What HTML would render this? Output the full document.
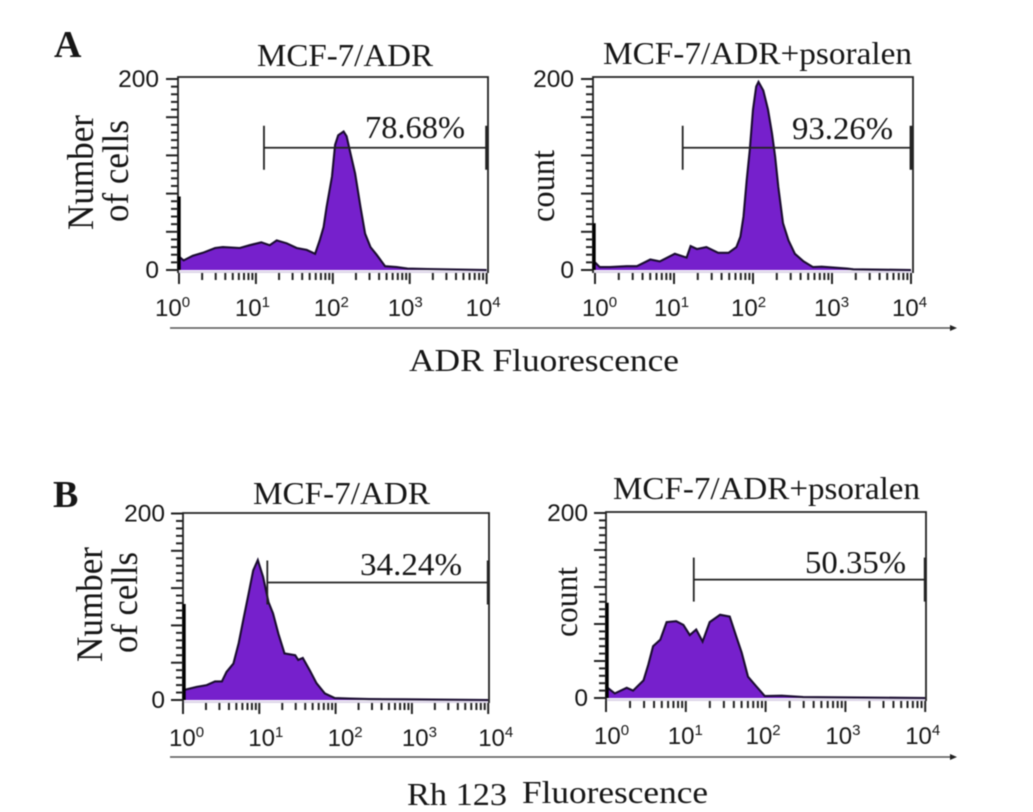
<!DOCTYPE html>
<html lang="en">
<head>
<meta charset="utf-8">
<title>ADR and Rh 123 fluorescence histograms</title>
<style>
  html, body { margin: 0; padding: 0; background: #fff; }
  #figure { display: block; width: 1033px; height: 812px; filter: blur(0.4px); }
  text { fill: #161616; }
  .serif { font-family: "Liberation Serif", serif; }
  .sans { font-family: "Liberation Sans", sans-serif; }
</style>
</head>
<body>
<svg id="figure" xmlns="http://www.w3.org/2000/svg" width="1033" height="812" viewBox="0 0 1033 812">
  <rect x="0" y="0" width="1033" height="812" fill="#ffffff"/>

  <text class="serif" x="54" y="57" font-size="38" font-weight="bold" fill="#000">A</text>
  <text class="serif" x="53" y="507" font-size="38" font-weight="bold" fill="#000">B</text>

  <text class="serif" x="257" y="66" font-size="32" textLength="176" lengthAdjust="spacingAndGlyphs">MCF-7/ADR</text>
  <text class="serif" x="603" y="64" font-size="32" textLength="309" lengthAdjust="spacingAndGlyphs">MCF-7/ADR+psoralen</text>
  <text class="serif" x="253" y="504" font-size="32" textLength="177" lengthAdjust="spacingAndGlyphs">MCF-7/ADR</text>
  <text class="serif" x="613" y="499" font-size="32" textLength="307" lengthAdjust="spacingAndGlyphs">MCF-7/ADR+psoralen</text>

  <g id="plots"></g>

  <text class="serif" x="365" y="138" font-size="32" textLength="100" lengthAdjust="spacingAndGlyphs">78.68%</text>
  <text class="serif" x="792" y="139" font-size="32" textLength="101" lengthAdjust="spacingAndGlyphs">93.26%</text>
  <text class="serif" x="360" y="575" font-size="32" textLength="102" lengthAdjust="spacingAndGlyphs">34.24%</text>
  <text class="serif" x="805" y="573" font-size="32" textLength="101" lengthAdjust="spacingAndGlyphs">50.35%</text>

  <text class="serif" transform="translate(93,230) rotate(-90)" font-size="37" textLength="115" lengthAdjust="spacingAndGlyphs">Number</text>
  <text class="serif" transform="translate(128,222) rotate(-90)" font-size="37" textLength="102" lengthAdjust="spacingAndGlyphs">of cells</text>
  <text class="serif" transform="translate(554,222) rotate(-90)" font-size="34" textLength="72" lengthAdjust="spacingAndGlyphs">count</text>
  <text class="serif" transform="translate(102,662) rotate(-90)" font-size="37" textLength="115" lengthAdjust="spacingAndGlyphs">Number</text>
  <text class="serif" transform="translate(137,653) rotate(-90)" font-size="37" textLength="101" lengthAdjust="spacingAndGlyphs">of cells</text>
  <text class="serif" transform="translate(577,637) rotate(-90)" font-size="33" textLength="70" lengthAdjust="spacingAndGlyphs">count</text>

  <g>
    <line x1="170" y1="328" x2="952" y2="328" stroke="#555" stroke-width="1.4"/>
    <polygon points="950,325 957,328 950,331" fill="#222"/>
  </g>
  <g>
    <line x1="170" y1="757" x2="952" y2="757" stroke="#555" stroke-width="1.4"/>
    <polygon points="950,754 957,757 950,760" fill="#222"/>
  </g>

  <text class="serif" x="409" y="371" font-size="32" textLength="270" lengthAdjust="spacingAndGlyphs">ADR Fluorescence</text>
  <text class="serif" x="407" y="805" font-size="32" textLength="100" lengthAdjust="spacingAndGlyphs">Rh 123</text>
  <text class="serif" x="522" y="803" font-size="32" textLength="186" lengthAdjust="spacingAndGlyphs">Fluorescence</text>
</svg>

<script>
// Shared axis values
const xTickExponents = [0, 1, 2, 3, 4];
const yTickLabels = ['200', '0'];
const yTickValues = [200, 0];
const yMajorStep = 40;
const yMinorStep = 8;

// Panel A, MCF-7/ADR: log10 fluorescence and cell count
const aControlLog = [0, 0.06, 0.18, 0.31, 0.47, 0.57, 0.79, 0.92, 1.07, 1.18, 1.27, 1.40, 1.53, 1.66, 1.77, 1.83, 1.88, 1.92, 1.99, 2.03, 2.07, 2.14, 2.18, 2.23, 2.29, 2.36, 2.42, 2.49, 2.57, 2.68, 2.83, 2.97, 3.23, 4];
const aControlCount = [14, 10, 15, 18, 23, 24, 23, 26, 29, 26, 31, 28, 23, 21, 17, 31, 45, 66, 98, 131, 141, 145, 140, 122, 101, 66, 38, 24, 16, 4, 3, 1.5, 1, 0];
const aControlFirstBin = 77;
const aControlGate = [1.105, 128];

// Panel A, MCF-7/ADR+psoralen
const aPsoralenLog = [0, 0.06, 0.19, 0.40, 0.53, 0.70, 0.82, 1.01, 1.16, 1.21, 1.29, 1.41, 1.56, 1.69, 1.79, 1.84, 1.88, 1.92, 1.96, 2.00, 2.04, 2.07, 2.13, 2.19, 2.24, 2.28, 2.32, 2.38, 2.45, 2.53, 2.64, 2.76, 2.87, 3.19, 3.27, 4];
const aPsoralenCount = [8, 3, 3, 4, 4, 11, 9, 17, 13, 25, 22, 24, 18, 18, 24, 35, 56, 94, 126, 168, 192, 197, 188, 168, 143, 119, 87, 49, 31, 17, 9, 3, 3.5, 1.5, 0.7, 0];
const aPsoralenFirstBin = 49;
const aPsoralenGate = [1.11, 128];

// Panel B, MCF-7/ADR
const bControlLog = [0, 0.03, 0.18, 0.31, 0.42, 0.51, 0.57, 0.66, 0.73, 0.79, 0.86, 0.92, 0.98, 1.05, 1.12, 1.18, 1.25, 1.33, 1.47, 1.51, 1.57, 1.66, 1.75, 1.86, 1.99, 2.18, 2.44, 2.9, 4];
const bControlCount = [12, 11, 14, 16, 20, 20, 30, 39, 61, 86, 114, 139, 150, 132, 105, 93, 71, 50, 48, 43, 45, 32, 18, 7, 2, 1.5, 1, 0.7, 0];
const bControlFirstBin = 103;
const bControlGate = [1.105, 126];

// Panel B, MCF-7/ADR+psoralen
const bPsoralenLog = [0, 0.02, 0.11, 0.26, 0.34, 0.47, 0.53, 0.59, 0.68, 0.76, 0.88, 0.97, 1.05, 1.13, 1.21, 1.30, 1.43, 1.55, 1.63, 1.70, 1.78, 1.88, 1.99, 2.2, 2.47, 4];
const bPsoralenCount = [12, 11, 5, 11, 8, 19, 36, 56, 63, 82, 83, 79, 68, 74, 61, 82, 90, 88, 67, 49, 23, 13, 2, 2.5, 1, 0];
const bPsoralenFirstBin = 103;
const bPsoralenGate = [1.10, 128];

const SVG_NS = 'http://www.w3.org/2000/svg';
const plotsRoot = document.getElementById('plots');

function make(parent, tag, attrs) {
  const el = document.createElementNS(SVG_NS, tag);
  for (const key in attrs) el.setAttribute(key, attrs[key]);
  parent.appendChild(el);
  return el;
}

function drawPanel(id, frame, logs, counts, firstBin, gate, nudges, yLabelRight) {
  const xScale = function (v) { return frame.x0 + v * frame.decade; };
  const yScale = function (v) { return frame.y0 - v * (frame.y0 - frame.y200) / 200; };

  const group = make(plotsRoot, 'g', {});
  
  

  // Filled histogram
  let d = 'M' + xScale(logs[0]) + ' ' + yScale(0);
  for (let i = 0; i < logs.length; i++) d += 'L' + xScale(logs[i]).toFixed(1) + ' ' + yScale(counts[i]).toFixed(1);
  const area = make(group, 'path', { d: d + 'L' + xScale(logs[logs.length - 1]) + ' ' + yScale(0) + 'Z', fill: '#7620cc' });
  
  

  let line = 'M' + xScale(logs[0]).toFixed(1) + ' ' + yScale(counts[0]).toFixed(1);
  for (let i = 1; i < logs.length; i++) line += 'L' + xScale(logs[i]).toFixed(1) + ' ' + yScale(counts[i]).toFixed(1);
  const outline = make(group, 'path', { d: line, fill: 'none', stroke: '#1a0d30', 'stroke-width': 2.1 });
  
  

  // Frame
  const base = make(group, 'line', { x1: frame.left, x2: frame.right, y1: frame.bottom - 1, y2: frame.bottom - 1, stroke: '#dcd6e8', 'stroke-width': 2 });
  
  

  const box = make(group, 'path', {
    d: 'M' + frame.left + ' ' + frame.bottom + 'V' + frame.top + 'H' + frame.right + 'V' + frame.bottom,
    fill: 'none', stroke: '#222', 'stroke-width': 1.8
  });
  
  

  // First-bin pile-up drawn as a thick bar along the left axis
  const spike = make(group, 'line', { x1: frame.left + 1, x2: frame.left + 1, y1: yScale(firstBin), y2: yScale(0), stroke: '#000', 'stroke-width': 3.4 });
  
  

  // Y ticks
  const yAxis = make(group, 'g', { stroke: '#222', 'stroke-width': 2 });
  
  
  for (let c = 0; c <= 200; c += yMinorStep) {
    const major = c % yMajorStep === 0;
    make(yAxis, 'line', { x1: frame.left - (major ? 12 : 7), x2: frame.left, y1: yScale(c), y2: yScale(c) });
  }
  yTickLabels.forEach(function (label, i) {
    const t = make(group, 'text', { x: yLabelRight, y: yScale(yTickValues[i]) + 8, 'font-size': 24.5, 'text-anchor': 'end', class: 'sans' });
    
    
    t.textContent = label;
  });

  // X ticks
  const xAxis = make(group, 'g', { stroke: '#222', 'stroke-width': 2 });
  
  
  xTickExponents.forEach(function (e, i) {
    make(xAxis, 'line', { x1: xScale(e), x2: xScale(e), y1: frame.bottom, y2: frame.bottom + 11 });
    if (e < 4) {
      for (let m = 2; m < 10; m++) {
        const px = xScale(e + Math.log10(m));
        make(xAxis, 'line', { x1: px, x2: px, y1: frame.bottom, y2: frame.bottom + 7 });
      }
    }
    const t = make(group, 'text', { x: xScale(e) + nudges[i], y: frame.bottom + 43, 'font-size': 24, class: 'sans' });
    
    
    t.textContent = '10';
    const sup = make(t, 'tspan', { dy: -9, 'font-size': 15 });
    sup.textContent = String(e);
  });

  // Gate marker
  const gateGroup = make(group, 'g', { stroke: '#222', fill: 'none' });
  
  
  const gx = xScale(gate[0]);
  const gy = yScale(gate[1]);
  const gxEnd = xScale(4);
  make(gateGroup, 'line', { x1: gx, x2: gxEnd, y1: gy, y2: gy, 'stroke-width': 1.8 });
  make(gateGroup, 'line', { x1: gx, x2: gx, y1: gy - 22, y2: gy + 22, 'stroke-width': 1.8 });
  make(gateGroup, 'line', { x1: gxEnd, x2: gxEnd, y1: gy - 22, y2: gy + 22, 'stroke-width': 2.8 });
}

drawPanel('a-control',
  { x0: 179, decade: 76.9, y0: 270, y200: 79, left: 178, right: 488, top: 77, bottom: 273 },
  aControlLog, aControlCount, aControlFirstBin, aControlGate, [-24, -21, -19, -22, -21], 159);
drawPanel('a-psoralen',
  { x0: 595, decade: 79, y0: 270, y200: 79, left: 593, right: 913, top: 77, bottom: 273 },
  aPsoralenLog, aPsoralenCount, aPsoralenFirstBin, aPsoralenGate, [-13, -20, -22, -18, -19], 574);
drawPanel('b-control',
  { x0: 183, decade: 76.3, y0: 700, y200: 513.5, left: 183, right: 489, top: 513, bottom: 703 },
  bControlLog, bControlCount, bControlFirstBin, bControlGate, [-14, -11, -8, -10, -10], 165);
drawPanel('b-psoralen',
  { x0: 606, decade: 79.8, y0: 698, y200: 513, left: 606, right: 926, top: 512, bottom: 701 },
  bPsoralenLog, bPsoralenCount, bPsoralenFirstBin, bPsoralenGate, [-12, -18, -20, -20, -20], 588);
</script>
</body>
</html>
